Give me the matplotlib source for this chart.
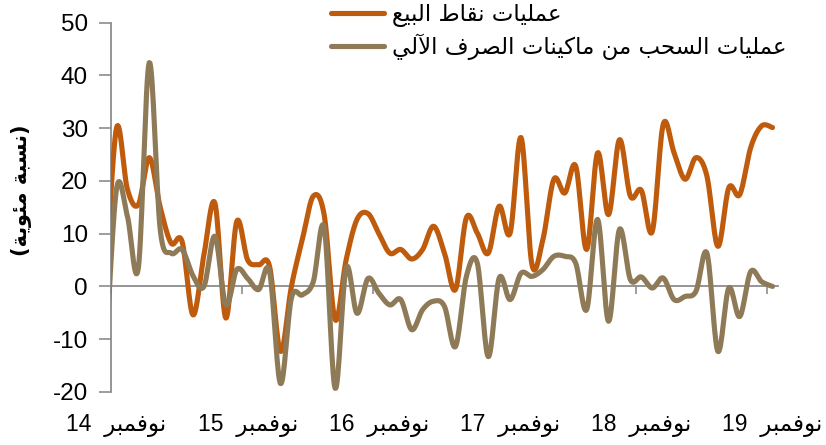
import numpy as np
import matplotlib
matplotlib.use("Agg")
import matplotlib.pyplot as plt
from matplotlib.transforms import blended_transform_factory

# ---------------- data ----------------
years = ["14", "15", "16", "17", "18", "19"]
# monthly values, Nov 2014 .. Nov 2019 (61 months)
pos_values = [30, 18.4, 15.5, 24.4, 15, 8.2, 8.5, -5.4, 6, 15.8, -6, 12.3,
              5, 4.1, 3.8, -12.3, 0, 8.9, 17.1, 13.5, -6.3, 5, 12.7, 13.8,
              10, 6.3, 7, 5.2, 7, 11.4, 6.3, -0.6, 13, 10.1, 6.3, 15.2,
              10.1, 28.2, 4.1, 8.9, 20.3, 17.7, 22.8, 7, 25.3, 13.6, 27.8, 17.1,
              18.2, 10.4, 30.7, 25.3, 20.3, 24.4, 20.9, 7.6, 18.7, 17.4, 26.3, 30.4,
              30.1]
atm_values = [18.4, 13.3, 3.5, 42.4, 10.8, 6.3, 7, 2, 0, 9.5, -3.5, 3.2,
              1.5, -0.6, 2.8, -18.4, -2.2, -1.6, 0.9, 11.1, -19.3, 3.5, -5.1, 1.5,
              -1.3, -3.5, -2.5, -8.2, -4.4, -2.8, -3.8, -11.4, 1.9, 4.4, -13.3, 1.6,
              -2.5, 2.5, 1.9, 3.2, 5.7, 5.7, 4.4, -4.4, 12.7, -6.6, 10.8, 1.3,
              1.8, -0.3, 1.6, -2.5, -1.9, -0.9, 6.3, -12.3, -0.3, -5.7, 2.8, 0.9,
              0]
# value of the month before the window (Oct 2014), only its entering segment is visible
pos_prev = 0
atm_prev = -14

label_pos = "عمليات نقاط البيع"
label_atm = "عمليات السحب من ماكينات الصرف الآلي"
ylabel_txt = "نسبة مئوية"
month_word = "نوفمبر"

# ---------------- minimal Arabic shaping (presentation forms, visual order) ----------------
FORMS = {
    'ا': ('\uFE8D', '\uFE8E', None, None),
    'آ': ('\uFE81', '\uFE82', None, None),
    'ب': ('\uFE8F', '\uFE90', '\uFE91', '\uFE92'),
    'ة': ('\uFE93', '\uFE94', None, None),
    'ت': ('\uFE95', '\uFE96', '\uFE97', '\uFE98'),
    'ح': ('\uFEA1', '\uFEA2', '\uFEA3', '\uFEA4'),
    'ر': ('\uFEAD', '\uFEAE', None, None),
    'س': ('\uFEB1', '\uFEB2', '\uFEB3', '\uFEB4'),
    'ص': ('\uFEB9', '\uFEBA', '\uFEBB', '\uFEBC'),
    'ط': ('\uFEC1', '\uFEC2', '\uFEC3', '\uFEC4'),
    'ع': ('\uFEC9', '\uFECA', '\uFECB', '\uFECC'),
    'ف': ('\uFED1', '\uFED2', '\uFED3', '\uFED4'),
    'ق': ('\uFED5', '\uFED6', '\uFED7', '\uFED8'),
    'ك': ('\uFED9', '\uFEDA', '\uFEDB', '\uFEDC'),
    'ل': ('\uFEDD', '\uFEDE', '\uFEDF', '\uFEE0'),
    'م': ('\uFEE1', '\uFEE2', '\uFEE3', '\uFEE4'),
    'ن': ('\uFEE5', '\uFEE6', '\uFEE7', '\uFEE8'),
    'و': ('\uFEED', '\uFEEE', None, None),
    'ي': ('\uFEF1', '\uFEF2', '\uFEF3', '\uFEF4'),
    'ئ': ('\uFE89', '\uFE8A', '\uFE8B', '\uFE8C'),
    'لا': ('\uFEFB', '\uFEFC', None, None),
    'لآ': ('\uFEF5', '\uFEF6', None, None),
}


def shape(text):
    units = []
    i = 0
    while i < len(text):
        if text[i] == 'ل' and i + 1 < len(text) and text[i + 1] in 'اآ':
            units.append(text[i:i + 2])
            i += 2
        else:
            units.append(text[i])
            i += 1
    out = []
    for k, u in enumerate(units):
        f = FORMS.get(u)
        if f is None:
            out.append(u)
            continue
        prev = FORMS.get(units[k - 1]) if k > 0 else None
        nxt = FORMS.get(units[k + 1]) if k + 1 < len(units) else None
        jp = prev is not None and prev[2] is not None
        jn = nxt is not None and f[2] is not None
        if jp and jn:
            out.append(f[3])
        elif jp:
            out.append(f[1])
        elif jn:
            out.append(f[2])
        else:
            out.append(f[0])
    return ''.join(out)


def rtl(text):
    return shape(text)[::-1]


# ---------------- smoothing (Excel-like cubic Bezier through points) ----------------
def smooth(xs, ys, n=16):
    P = np.column_stack([xs, ys]).astype(float)
    segs = []
    for i in range(len(P) - 1):
        p0 = P[i - 1] if i > 0 else P[i]
        p1, p2 = P[i], P[i + 1]
        p3 = P[i + 2] if i + 2 < len(P) else P[i + 1]
        c1 = p1 + (p2 - p0) / 6.0
        c2 = p2 - (p3 - p1) / 6.0
        t = np.linspace(0, 1, n, endpoint=(i == len(P) - 2))[:, None]
        b = ((1 - t) ** 3) * p1 + 3 * ((1 - t) ** 2) * t * c1 + 3 * (1 - t) * t ** 2 * c2 + t ** 3 * p2
        segs.append(b)
    B = np.vstack(segs)
    return B[:, 0], B[:, 1]


# ---------------- figure ----------------
W, H = 826, 445
fig = plt.figure(figsize=(W / 100, H / 100), dpi=100)
ax = fig.add_axes([111 / W, 53 / H, 667 / W, 369.5 / H])

num_font = ['Liberation Sans', 'DejaVu Sans']
ar_font = ['DejaVu Sans']

orange = '#BF5B0C'
brown = '#8E7A57'
gray = '#8C8C8C'

n = len(pos_values)
x = np.arange(-1, n)
xs, ys = smooth(x, [pos_prev] + pos_values)
ax.plot(xs, ys, color=orange, lw=3.7, solid_capstyle='round', zorder=3,
        label=rtl(label_pos))
xs, ys = smooth(x, [atm_prev] + atm_values)
ax.plot(xs, ys, color=brown, lw=3.7, solid_capstyle='round', zorder=4,
        label=rtl(label_atm))

ax.set_xlim(-0.5, n - 0.5)
ax.set_ylim(-20, 50)

for s in ['top', 'right']:
    ax.spines[s].set_visible(False)
ax.spines['bottom'].set_position(('data', 0))
for s in ['left', 'bottom']:
    ax.spines[s].set_color(gray)
    ax.spines[s].set_linewidth(1.3)

ax.set_yticks(np.arange(-20, 51, 10))
ax.set_yticklabels([str(v) for v in range(-20, 51, 10)], family=num_font,
                   fontsize=17.5)
ax.tick_params(axis='y', direction='out', length=8.5, width=1.2, color=gray,
               pad=8)
ax.set_xticks(np.arange(0, n, 12) - 0.5)
ax.tick_params(axis='x', direction='out', length=5.5, width=1.2, color=gray,
               labelbottom=False)

tr = blended_transform_factory(ax.transData, ax.transAxes)
for k, yy in enumerate(years):
    ax.annotate(yy + "  " + rtl(month_word), xy=(12 * k, 0), xycoords=tr,
                xytext=(0, -24), textcoords='offset points',
                ha='center', va='center', fontsize=16.5, family=num_font)

fig.text(22 / W, 1 - 190 / H, "(" + rtl(ylabel_txt) + ")", rotation=90,
         ha='center', va='center', fontsize=15, fontweight='bold',
         family=ar_font)

leg = ax.legend(loc='upper left', bbox_to_anchor=(331 / W, 1 - 3 / H),
                bbox_transform=fig.transFigure, frameon=False,
                prop={'family': ar_font, 'size': 16.5}, handlelength=2.3,
                handletextpad=0.35, borderpad=0, borderaxespad=0,
                labelspacing=0.3)

fig.savefig("out.png", dpi=100)
